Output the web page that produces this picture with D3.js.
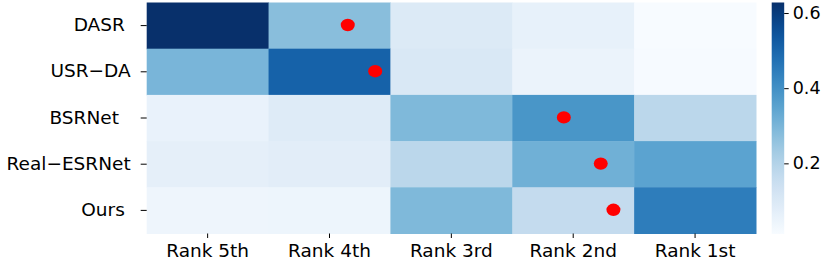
<!DOCTYPE html>
<html lang="en">
<head>
<meta charset="UTF-8">
<title>Rank heatmap</title>
<script src="https://d3js.org/d3.v7.min.js"></script>
<style>
  body { margin: 0; background: #fff; }
  text { font-family: "DejaVu Sans", sans-serif; fill: #000; }
</style>
</head>
<body>
<svg id="canvas" width="830" height="260"></svg>
<script>
// rows (methods) and columns (rank buckets)
let methods = ['DASR ', 'USR\u2212DA', 'BSRNet  ', 'Real\u2212ESRNet', 'Ours ']
let ranks = ['Rank 5th', 'Rank 4th', 'Rank 3rd', 'Rank 2nd', 'Rank 1st']

// share of votes per rank, one array per method (Rank 5th .. Rank 1st)
let dasr       = [0.628, 0.275, 0.095, 0.062, 0.012]
let usrda      = [0.300, 0.510, 0.105, 0.050, 0.015]
let bsrnet     = [0.055, 0.090, 0.290, 0.385, 0.185]
let realesrnet = [0.068, 0.078, 0.185, 0.315, 0.350]
let ours       = [0.040, 0.042, 0.290, 0.165, 0.445]
let values = [dasr, usrda, bsrnet, realesrnet, ours]

// mean rank per method (red dots), 5 = Rank 5th ... 1 = Rank 1st
let meanRank = [3.85, 3.625, 2.077, 1.774, 1.67]

let cbTicks = [0.2, 0.4, 0.6]

let svg = d3.select('#canvas')

let mLeft = 146.7, mRight = 756, mTop = 2.5, mBottom = 233.5

let x = d3.scaleBand().domain(ranks).range([mLeft, mRight])
let y = d3.scaleBand().domain(methods).range([mTop, mBottom])

let flat = values.flat()
let ext = d3.extent(flat)
let color = d3.scaleSequential(d3.interpolateBlues).domain(ext)

let cells = []
values.forEach((row, i) => {
    row.forEach((v, j) => {
        cells.push({ m: methods[i], r: ranks[j], v: v })
    })
})

svg.append('g')
   .selectAll('rect')
   .data(cells)
   .enter()
   .append('rect')
   .attr('x', d => x(d.r))
   .attr('y', d => y(d.m))
   .attr('width', x.bandwidth() + 0.5)
   .attr('height', y.bandwidth() + 0.5)
   .attr('fill', d => color(d.v))

// dots for mean rank
let xr = d3.scaleLinear()
    .domain([5, 1])
    .range([x(ranks[0]) + x.bandwidth() / 2, x(ranks[4]) + x.bandwidth() / 2])

svg.append('g')
   .selectAll('ellipse')
   .data(meanRank)
   .enter()
   .append('ellipse')
   .attr('cx', d => xr(d))
   .attr('cy', (d, i) => y(methods[i]) + y.bandwidth() / 2 - 0.6)
   .attr('rx', 7)
   .attr('ry', 6.2)
   .attr('fill', '#ff0000')

// axes
let xAxis = d3.axisBottom(x).tickSize(4.5).tickPadding(5)
let gx = svg.append('g')
    .attr('transform', `translate(0,${mBottom})`)
    .call(xAxis)
gx.select('.domain').remove()
gx.selectAll('text').style('font-size', '18.5px').attr('dy', '0.78em')
gx.selectAll('line').attr('stroke', '#000').attr('stroke-width', 1)

let yAxis = d3.axisLeft(y).tickSize(6).tickPadding(10)
let gy = svg.append('g')
    .attr('transform', `translate(${mLeft},0)`)
    .call(yAxis)
gy.select('.domain').remove()
gy.selectAll('text').style('font-size', '18.5px').style('white-space', 'pre').attr('dy', '0.3em')
gy.selectAll('line').attr('stroke', '#000').attr('stroke-width', 1)

// colorbar
let cbX = 771.7, cbW = 12.5
let cbScale = d3.scaleLinear().domain(ext).range([mBottom + 0.5, mTop])

let defs = svg.append('defs')
let grad = defs.append('linearGradient')
    .attr('id', 'cbgrad')
    .attr('x1', 0).attr('y1', 1).attr('x2', 0).attr('y2', 0)
d3.range(0, 1.0001, 0.05).forEach(t => {
    grad.append('stop')
        .attr('offset', t)
        .attr('stop-color', d3.interpolateBlues(t))
})

svg.append('rect')
   .attr('x', cbX)
   .attr('y', mTop)
   .attr('width', cbW)
   .attr('height', mBottom + 0.5 - mTop)
   .attr('fill', 'url(#cbgrad)')

let cbAxis = d3.axisRight(cbScale).tickValues(cbTicks).tickSize(4.5).tickPadding(4)
    .tickFormat(d3.format('.1f'))
let gc = svg.append('g')
    .attr('transform', `translate(${cbX + cbW},0)`)
    .call(cbAxis)
gc.select('.domain').remove()
gc.selectAll('text').style('font-size', '17.5px')
gc.selectAll('line').attr('stroke', '#000').attr('stroke-width', 1)
</script>
</body>
</html>
